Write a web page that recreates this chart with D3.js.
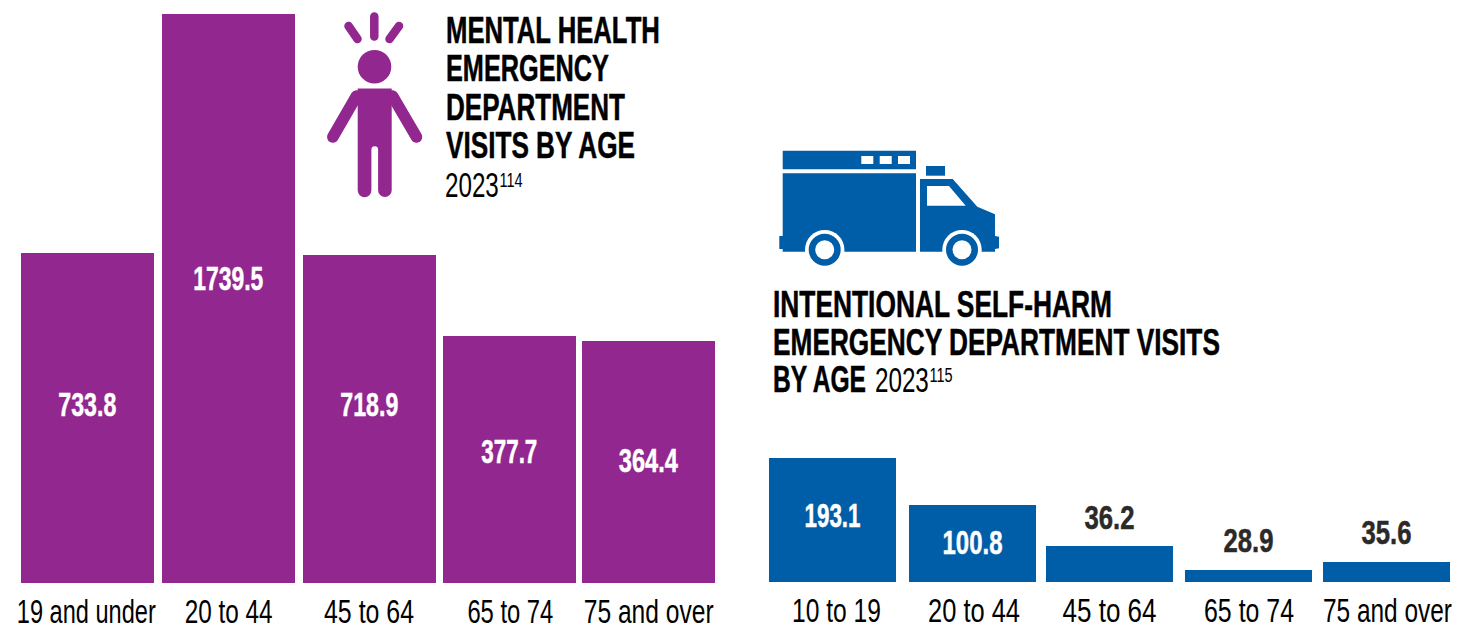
<!DOCTYPE html>
<html>
<head>
<meta charset="utf-8">
<script src="https://cdn.jsdelivr.net/npm/d3@7"></script>
<style>
body{margin:0;background:#fff}
svg{display:block}
text{font-family:"Liberation Sans",sans-serif}
.heavy{font-weight:700;stroke-width:.5}
</style>
</head>
<body>
<svg id="chart" width="1457" height="629"></svg>
<script>
var mentalAges = ["19 and under","20 to 44","45 to 64","65 to 74","75 and over"]
var mentalValues = [733.8,1739.5,718.9,377.7,364.4]
var harmAges = ["10 to 19","20 to 44","45 to 64","65 to 74","75 and over"]
var harmValues = [193.1,100.8,36.2,28.9,35.6]

var purple = "#92278f"
var blue = "#005da8"
var svg = d3.select("#chart")

// the bars in the original are not proportional to their numbers,
// so each y scale is piecewise to follow the lengths as printed
var yMental = d3.scaleLinear()
	.domain([0,364.4,377.7,718.9,733.8,1739.5])
	.range([583,341,336,255,253,14])
var yHarm = d3.scaleLinear()
	.domain([0,28.9,35.6,36.2,100.8,193.1])
	.range([582,570,562,546,505,458])

// no condensed font here, so squeeze the text sideways to a width
function squeeze(el,width){
	var t = d3.select(el)
	var x = +t.attr("x")||0
	var k = width/el.getComputedTextLength()
	t.attr("transform","translate("+x+",0) scale("+k+",1) translate("+(-x)+",0)")
}

function barChart(ages,values,y,o){
	var x = d3.scaleBand().domain(ages).range(o.xRange).paddingInner(o.gap)
	var left = function(i){return Math.round(x(ages[i])+o.barDx[i])}
	var g = svg.append("g")

	g.selectAll(".bar")
		.data(values)
		.enter()
		.append("rect")
		.attr("class","bar")
		.attr("x",function(d,i){return left(i)})
		.attr("y",function(d){return y(d)})
		.attr("width",Math.round(x.bandwidth()))
		.attr("height",function(d){return y(0)-y(d)})
		.attr("fill",o.color)

	g.selectAll(".value")
		.data(values)
		.enter()
		.append("text")
		.attr("class","value heavy")
		.attr("x",function(d,i){return left(i)+x.bandwidth()/2})
		.attr("y",function(d,i){return o.valueY[i]})
		.attr("text-anchor","middle")
		.attr("font-size",33)
		.attr("fill",function(d,i){return o.dark[i] ? "#2b2a29" : "#fff"})
		.attr("stroke",function(d,i){return o.dark[i] ? "#2b2a29" : "#fff"})
		.text(function(d){return d.toFixed(1)})
		.each(function(d,i){squeeze(this,o.valueW[i])})

	var axis = g.append("g")
		.attr("transform","translate(0,"+y(0)+")")
		.call(d3.axisBottom(x).tickSize(0))
	axis.select(".domain").remove()
	axis.selectAll("text")
		.attr("x",function(d,i){return o.labelDx[i]})
		.attr("y",o.labelY)
		.attr("dy",0)
		.attr("fill","#000")
		.style("font-size","34px")
		.style("font-family",'"Liberation Sans",sans-serif')
		.each(function(d,i){squeeze(this,o.labelW[i])})
}

barChart(mentalAges,mentalValues,yMental,{
	xRange:[21,715],gap:0.055,color:purple,
	barDx:[0,1,1.5,1,0],
	valueY:[416,290,416,463,472],
	valueW:[58,70,58,56,59],
	dark:[0,0,0,0,0],
	labelY:40,labelDx:[-1,1,1,2,0],
	labelW:[139,88,90,86,130]
})
barChart(harmAges,harmValues,yHarm,{
	xRange:[769,1450],gap:0.083,color:blue,
	barDx:[0,1.5,0,.5,0],
	valueY:[527,554,529,552,544],
	valueW:[56,60,50,50,50],
	dark:[0,0,1,1,1],
	labelY:40,labelDx:[4,3,0,1,1],
	labelW:[89,92,94,90,129]
})

// titles
function titleLine(txt,x,y,w){
	svg.append("text").attr("class","heavy").attr("x",x).attr("y",y)
		.attr("font-size",37).attr("stroke","#000").text(txt)
		.each(function(){squeeze(this,w)})
}
function yearNote(yr,sup,x,y){
	var t = svg.append("text").attr("x",x).attr("y",y).attr("font-size",35).text(yr)
	t.append("tspan").attr("dx",1).attr("dy",-10).attr("font-size",21).text(sup)
	t.each(function(){squeeze(this,77)})
}
titleLine("MENTAL HEALTH",446,43,214)
titleLine("EMERGENCY",446,81,163)
titleLine("DEPARTMENT",446,120,179)
titleLine("VISITS BY AGE",446,158,189)
yearNote("2023","114",445,197)

titleLine("INTENTIONAL SELF-HARM",773,317,339)
titleLine("EMERGENCY DEPARTMENT VISITS",773,355,447)
titleLine("BY AGE",773,392,93)
yearNote("2023","115",875,392)

// person icon
var person = svg.append("g").attr("fill",purple).attr("stroke",purple)
person.selectAll("line")
	.data([[374.3,16.5,374.3,36.5,8.5],[348.5,26,357.5,39,8.5],[399,26,389.5,39,8.5],[356.5,96,332.8,137,11.5],[392.5,96,416.5,137,11.5]])
	.enter().append("line")
	.attr("x1",function(d){return d[0]}).attr("y1",function(d){return d[1]})
	.attr("x2",function(d){return d[2]}).attr("y2",function(d){return d[3]})
	.attr("stroke-width",function(d){return d[4]})
	.attr("stroke-linecap","round")
person.append("circle").attr("cx",374.5).attr("cy",66.7).attr("r",16.8).attr("stroke","none")
person.append("path").attr("stroke","none")
	.attr("d","M357.7 88.5H391.7V190.3A6.8 6.8 0 0 1 378.1 190.3V149.5A3.35 3.35 0 0 0 371.4 149.5V190.3A6.85 6.85 0 0 1 357.7 190.3Z")

// ambulance icon
var truck = svg.append("g").attr("fill",blue)
truck.append("path").attr("d","M782.7 150.7H916V169.3H782.7Z")
truck.append("path").attr("d","M782.7 173.3H916V251.7H782.7V249H779.3V236H782.7Z")
truck.append("path").attr("d","M920 179H952.7L977.3 206.7L995 214.3V236L999 236.7V248.3L995 249V251.7H920Z")
truck.append("rect").attr("x",926).attr("y",166).attr("width",19).attr("height",9.7)
truck.selectAll(".win")
	.data([861.3,879.7,898])
	.enter().append("rect")
	.attr("class","win").attr("x",function(d){return d}).attr("y",156)
	.attr("width",12).attr("height",8).attr("fill","#fff")
truck.append("path").attr("fill","#fff").attr("d","M927 186H949L965.7 205.7H927Z")
truck.selectAll(".wheel")
	.data([824.7,962])
	.enter().append("g").attr("class","wheel")
	.each(function(d){
		var w = d3.select(this)
		w.append("circle").attr("cx",d).attr("cy",249.7).attr("r",19.7).attr("fill","#fff")
		w.append("rect").attr("x",d-20).attr("y",251.7).attr("width",40).attr("height",16).attr("fill","#fff")
		w.append("circle").attr("cx",d).attr("cy",249.7).attr("r",16).attr("fill",blue)
		w.append("circle").attr("cx",d).attr("cy",249.7).attr("r",9.5).attr("fill","#fff")
	})
</script>
</body>
</html>
